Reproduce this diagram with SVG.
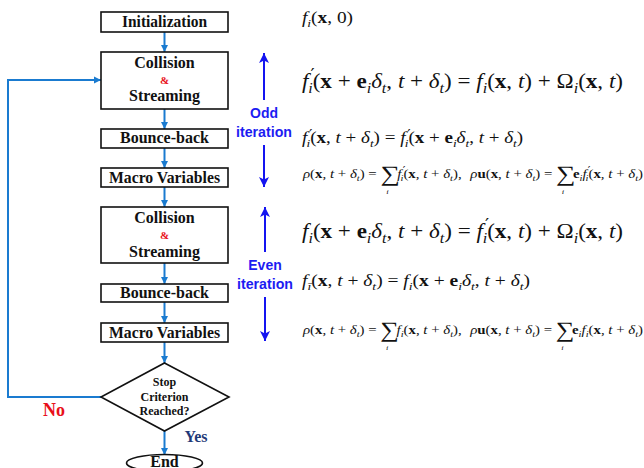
<svg xmlns="http://www.w3.org/2000/svg" width="644" height="468" viewBox="0 0 644 468">
<defs>
<style>
.box{fill:#fff;stroke:#111;stroke-width:1.6}
.lbl{font-family:"Liberation Serif","Times New Roman",serif;font-weight:bold;font-size:16px;fill:#111;text-anchor:middle}
.amp{font-family:"Liberation Serif",serif;font-weight:bold;font-size:11px;fill:#e8101a;text-anchor:middle}
.dl{font-family:"Liberation Serif",serif;font-weight:bold;font-size:12px;fill:#111;text-anchor:middle}
.flow{fill:none;stroke:#1a7bd0;stroke-width:2}
.iter{stroke:#1414f0;stroke-width:2;fill:none}
.it-lbl{font-family:"Liberation Sans",Arial,sans-serif;font-weight:bold;font-size:14px;fill:#1c1cf2;text-anchor:middle}
.m{font-family:"Liberation Serif","DejaVu Serif",serif;fill:#111}
.i{font-style:italic}
.b{font-weight:bold}
.sb{font-size:70%;baseline-shift:-0.35em;font-style:italic}
.pr{font-family:"DejaVu Sans",sans-serif;font-size:80%;baseline-shift:0.4em}
</style>
<marker id="ah" markerUnits="userSpaceOnUse" markerWidth="8" markerHeight="8" refX="7" refY="4" orient="auto">
<path d="M0,0.5 L7,4 L0,7.5 Z" fill="#1a7bd0"/>
</marker>
<marker id="ah2" markerUnits="userSpaceOnUse" markerWidth="10" markerHeight="12" refX="10" refY="5" orient="auto">
<path d="M0,0 L10,5 L0,10 L2.5,5 Z" fill="#1414f0"/>
</marker>
</defs>

<g id="connectors">
<line class="flow" x1="164.5" y1="32" x2="164.5" y2="52" marker-end="url(#ah)"/>
<line class="flow" x1="164.5" y1="109" x2="164.5" y2="129" marker-end="url(#ah)"/>
<line class="flow" x1="164.5" y1="148" x2="164.5" y2="168" marker-end="url(#ah)"/>
<line class="flow" x1="164.5" y1="187" x2="164.5" y2="207" marker-end="url(#ah)"/>
<line class="flow" x1="164.5" y1="263" x2="164.5" y2="284" marker-end="url(#ah)"/>
<line class="flow" x1="164.5" y1="302" x2="164.5" y2="323" marker-end="url(#ah)"/>
<line class="flow" x1="164.5" y1="342" x2="164.5" y2="363" marker-end="url(#ah)"/>
<line class="flow" x1="164.5" y1="431" x2="164.5" y2="455" marker-end="url(#ah)"/>
<path class="flow" d="M101,397 H8 V80 H101" marker-end="url(#ah)"/>
</g>

<g id="initialization">
<rect class="box" x="101" y="12" width="127" height="20"/>
<text class="lbl" x="164.5" y="27" textLength="85" lengthAdjust="spacingAndGlyphs">Initialization</text>
</g>
<g id="collision1">
<rect class="box" x="101" y="52" width="127" height="57"/>
<text class="lbl" x="164.5" y="68">Collision</text>
<text class="amp" x="164.5" y="84">&amp;</text>
<text class="lbl" x="164.5" y="101">Streaming</text>
</g>
<g id="bounce1">
<rect class="box" x="101" y="129" width="127" height="19"/>
<text class="lbl" x="164.5" y="143">Bounce-back</text>
</g>
<g id="macro1">
<rect class="box" x="101" y="168" width="127" height="19"/>
<text class="lbl" x="164.5" y="183" textLength="111" lengthAdjust="spacingAndGlyphs">Macro Variables</text>
</g>
<g id="collision2">
<rect class="box" x="101" y="207" width="127" height="56"/>
<text class="lbl" x="164.5" y="223">Collision</text>
<text class="amp" x="164.5" y="239">&amp;</text>
<text class="lbl" x="164.5" y="257">Streaming</text>
</g>
<g id="bounce2">
<rect class="box" x="101" y="284" width="127" height="18"/>
<text class="lbl" x="164.5" y="298">Bounce-back</text>
</g>
<g id="macro2">
<rect class="box" x="101" y="323" width="127" height="19"/>
<text class="lbl" x="164.5" y="338" textLength="111" lengthAdjust="spacingAndGlyphs">Macro Variables</text>
</g>
<g id="decision">
<polygon class="box" points="164.5,363 229,397 164.5,431 101,397"/>
<text class="dl" x="164.5" y="386">Stop</text>
<text class="dl" x="164.5" y="401">Criterion</text>
<text class="dl" x="164.5" y="415">Reached?</text>
</g>
<g id="end">
<ellipse class="box" cx="164.5" cy="463" rx="38" ry="8.5"/>
<text class="lbl" x="164.5" y="467" font-size="15">End</text>
</g>

<g id="branch-labels">
<text x="54" y="416" font-family="Liberation Serif,serif" font-weight="bold" font-size="18" fill="#e8101a" text-anchor="middle">No</text>
<text x="196" y="442" font-family="Liberation Serif,serif" font-weight="bold" font-size="16" fill="#1f3a78" text-anchor="middle">Yes</text>
</g>

<g id="odd-iteration">
<line class="iter" x1="264" y1="100" x2="264" y2="53" marker-end="url(#ah2)"/>
<text class="it-lbl" x="264" y="118">Odd</text>
<text class="it-lbl" x="264" y="137" textLength="56" lengthAdjust="spacingAndGlyphs">iteration</text>
<line class="iter" x1="264" y1="145" x2="264" y2="187" marker-end="url(#ah2)"/>
</g>
<g id="even-iteration">
<line class="iter" x1="265" y1="252" x2="265" y2="207" marker-end="url(#ah2)"/>
<text class="it-lbl" x="265" y="270">Even</text>
<text class="it-lbl" x="265" y="289" textLength="56" lengthAdjust="spacingAndGlyphs">iteration</text>
<line class="iter" x1="265" y1="297" x2="265" y2="341" marker-end="url(#ah2)"/>
</g>

<g id="equations">
<text class="m" x="302" y="23" font-size="16" textLength="51" lengthAdjust="spacingAndGlyphs"><tspan class="i">f</tspan><tspan class="sb">i</tspan>(<tspan class="b">x</tspan>, 0)</text>

<text class="m" x="302" y="88" font-size="21" textLength="321" lengthAdjust="spacingAndGlyphs"><tspan class="i">f</tspan><tspan class="pr" dx="2">′</tspan><tspan class="sb" dx="-6">i</tspan>(<tspan class="b">x</tspan> + <tspan class="b">e</tspan><tspan class="sb">i</tspan><tspan class="i">δ</tspan><tspan class="sb">t</tspan>, <tspan class="i">t</tspan> + <tspan class="i">δ</tspan><tspan class="sb">t</tspan>) = <tspan class="i">f</tspan><tspan class="sb">i</tspan>(<tspan class="b">x</tspan>, <tspan class="i">t</tspan>) + Ω<tspan class="sb">i</tspan>(<tspan class="b">x</tspan>, <tspan class="i">t</tspan>)</text>

<text class="m" x="302" y="143" font-size="16" textLength="221" lengthAdjust="spacingAndGlyphs"><tspan class="i">f</tspan><tspan class="pr" dx="1.5">′</tspan><tspan class="sb" dx="-5">i</tspan>(<tspan class="b">x</tspan>, <tspan class="i">t</tspan> + <tspan class="i">δ</tspan><tspan class="sb">t</tspan>) = <tspan class="i">f</tspan><tspan class="pr" dx="1.5">′</tspan><tspan class="sb" dx="-5">i</tspan>(<tspan class="b">x</tspan> + <tspan class="b">e</tspan><tspan class="sb">i</tspan><tspan class="i">δ</tspan><tspan class="sb">t</tspan>, <tspan class="i">t</tspan> + <tspan class="i">δ</tspan><tspan class="sb">t</tspan>)</text>

<text class="m" x="303" y="178" font-size="12" textLength="340" lengthAdjust="spacingAndGlyphs"><tspan class="i">ρ</tspan>(<tspan class="b">x</tspan>, <tspan class="i">t</tspan> + <tspan class="i">δ</tspan><tspan class="sb">t</tspan>) = <tspan font-size="22" baseline-shift="-3">∑</tspan><tspan class="i" font-size="7" dx="-11" baseline-shift="-16">i</tspan><tspan dx="7" class="i">f</tspan><tspan class="pr" dx="1">′</tspan><tspan class="sb" dx="-4">i</tspan>(<tspan class="b">x</tspan>, <tspan class="i">t</tspan> + <tspan class="i">δ</tspan><tspan class="sb">t</tspan>),  <tspan dx="4" class="i">ρ</tspan><tspan class="b">u</tspan>(<tspan class="b">x</tspan>, <tspan class="i">t</tspan> + <tspan class="i">δ</tspan><tspan class="sb">t</tspan>) = <tspan font-size="22" baseline-shift="-3">∑</tspan><tspan class="i" font-size="7" dx="-11" baseline-shift="-16">i</tspan><tspan dx="7" class="b">e</tspan><tspan class="sb">i</tspan><tspan class="i">f</tspan><tspan class="pr" dx="1">′</tspan><tspan class="sb" dx="-4">i</tspan>(<tspan class="b">x</tspan>, <tspan class="i">t</tspan> + <tspan class="i">δ</tspan><tspan class="sb">t</tspan>)</text>

<text class="m" x="302" y="238" font-size="21" textLength="321" lengthAdjust="spacingAndGlyphs"><tspan class="i">f</tspan><tspan class="sb">i</tspan>(<tspan class="b">x</tspan> + <tspan class="b">e</tspan><tspan class="sb">i</tspan><tspan class="i">δ</tspan><tspan class="sb">t</tspan>, <tspan class="i">t</tspan> + <tspan class="i">δ</tspan><tspan class="sb">t</tspan>) = <tspan class="i">f</tspan><tspan class="pr" dx="2">′</tspan><tspan class="sb" dx="-6">i</tspan>(<tspan class="b">x</tspan>, <tspan class="i">t</tspan>) + Ω<tspan class="sb">i</tspan>(<tspan class="b">x</tspan>, <tspan class="i">t</tspan>)</text>

<text class="m" x="302" y="286" font-size="16" textLength="228" lengthAdjust="spacingAndGlyphs"><tspan class="i">f</tspan><tspan class="sb">ī</tspan>(<tspan class="b">x</tspan>, <tspan class="i">t</tspan> + <tspan class="i">δ</tspan><tspan class="sb">t</tspan>) = <tspan class="i">f</tspan><tspan class="sb">i</tspan>(<tspan class="b">x</tspan> + <tspan class="b">e</tspan><tspan class="sb">i</tspan><tspan class="i">δ</tspan><tspan class="sb">t</tspan>, <tspan class="i">t</tspan> + <tspan class="i">δ</tspan><tspan class="sb">t</tspan>)</text>

<text class="m" x="303" y="334" font-size="12.5" textLength="340" lengthAdjust="spacingAndGlyphs"><tspan class="i">ρ</tspan>(<tspan class="b">x</tspan>, <tspan class="i">t</tspan> + <tspan class="i">δ</tspan><tspan class="sb">t</tspan>) = <tspan font-size="22" baseline-shift="-3">∑</tspan><tspan class="i" font-size="7" dx="-11" baseline-shift="-16">i</tspan><tspan dx="7" class="i">f</tspan><tspan class="sb">i</tspan>(<tspan class="b">x</tspan>, <tspan class="i">t</tspan> + <tspan class="i">δ</tspan><tspan class="sb">t</tspan>),  <tspan dx="4" class="i">ρ</tspan><tspan class="b">u</tspan>(<tspan class="b">x</tspan>, <tspan class="i">t</tspan> + <tspan class="i">δ</tspan><tspan class="sb">t</tspan>) = <tspan font-size="22" baseline-shift="-3">∑</tspan><tspan class="i" font-size="7" dx="-11" baseline-shift="-16">i</tspan><tspan dx="7" class="b">e</tspan><tspan class="sb">i</tspan><tspan class="i">f</tspan><tspan class="sb">i</tspan>(<tspan class="b">x</tspan>, <tspan class="i">t</tspan> + <tspan class="i">δ</tspan><tspan class="sb">t</tspan>)</text>
</g>
</svg>
